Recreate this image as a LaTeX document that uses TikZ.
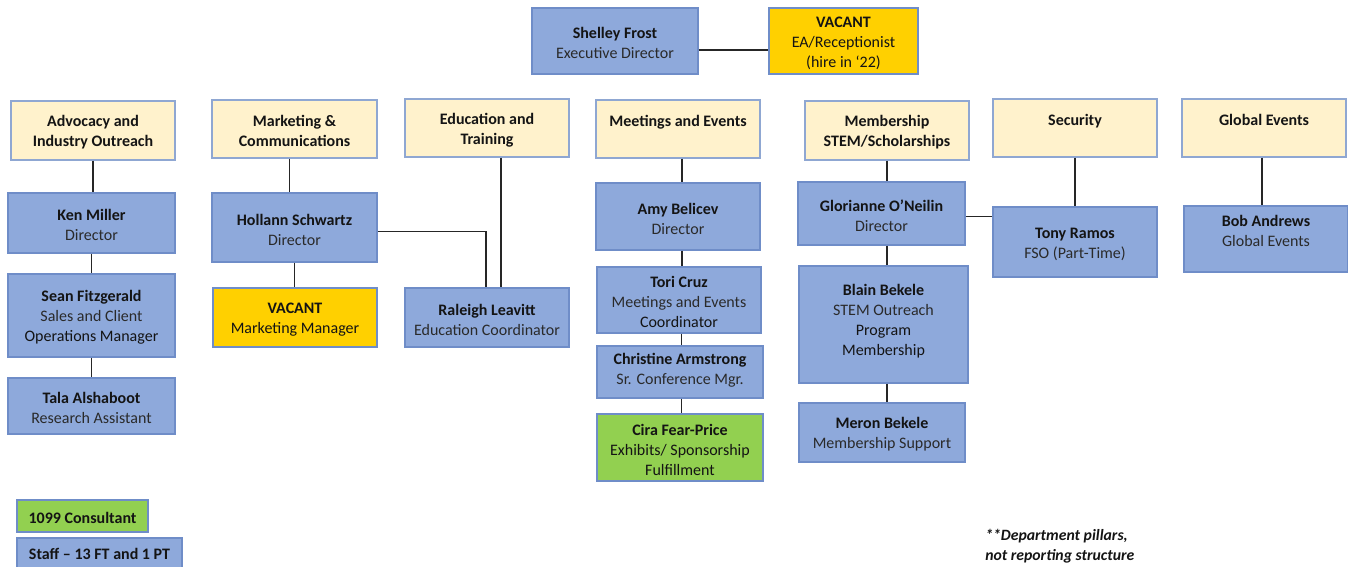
\documentclass[tikz,border=0pt]{standalone}
\usepackage{fontspec}
\setmainfont{Carlito}
\usetikzlibrary{fit,calc}
\definecolor{staffc}{HTML}{8EA9DB}
\definecolor{staffborder}{HTML}{6F8DC8}
\definecolor{hdrc}{HTML}{FFF2CC}
\definecolor{hdrborder}{HTML}{8FA7D2}
\definecolor{goldc}{HTML}{FFD000}
\definecolor{greenc}{HTML}{92D050}
\definecolor{txtc}{HTML}{141414}
\definecolor{subc}{HTML}{2A2A2A}
\newcommand\pname[1]{\textbf{#1}\\\color{subc}}
\tikzset{
  basebox/.style={draw=staffborder, line width=0.8pt, inner sep=0pt},
  staffbox/.style={basebox, fill=staffc},
  goldbox/.style={basebox, fill=goldc},
  greenbox/.style={basebox, fill=greenc},
  hdrbox/.style={basebox, fill=hdrc, draw=hdrborder},
  lbl/.style={align=center, inner sep=0pt, yshift=-1.5pt, text=txtc,
    font=\fontsize{12}{15}\selectfont},
  hlbl/.style={lbl, font=\bfseries\fontsize{12}{15}\selectfont},
  conn/.style={draw=black!85, line width=0.8pt},
}
\begin{document}
\begin{tikzpicture}[x=0.75pt,y=-0.75pt]
\useasboundingbox (0,0) rectangle (1348,567);
% top
\node[staffbox, fit={(532,8) (698,74)}, label={[lbl]center:\pname{Shelley Frost}Executive Director}] (sf) {};
\node[goldbox, fit={(769,8) (918,74)}, label={[lbl]center:\textbf{VACANT}\\EA/Receptionist\\(hire in ‘22)}] (ea) {};
% headers
\node[hdrbox, fit={(11,101) (175,160)}, label={[hlbl]center:Advocacy and\\Industry Outreach}] (h1) {};
\node[hdrbox, fit={(212,100) (377,158)}, label={[hlbl]center:Marketing \&\\Communications}] (h2) {};
\node[hdrbox, fit={(405,99) (569,157)}, label={[hlbl]center:Education and\\Training}] (h3) {};
\node[hdrbox, fit={(596,100) (760,158)}, label={[hlbl]center:Meetings and Events\\\mbox{}}] (h4) {};
\node[hdrbox, fit={(805,101) (969,160)}, label={[hlbl]center:Membership\\STEM/Scholarships}] (h5) {};
\node[hdrbox, fit={(993,99) (1157,157)}, label={[hlbl]center:Security\\\mbox{}}] (h6) {};
\node[hdrbox, fit={(1182,99) (1346,157)}, label={[hlbl]center:Global Events\\\mbox{}}] (h7) {};
% column 1
\node[staffbox, fit={(8,193) (175,253)}, label={[lbl]center:\pname{Ken Miller}Director}] (km) {};
\node[staffbox, fit={(8,274) (175,357)}, label={[lbl]center:\pname{Sean Fitzgerald}Sales and Client\\Operations Manager}] (sfz) {};
\node[staffbox, fit={(8,378) (175,434)}, label={[lbl]center:\pname{Tala Alshaboot}Research Assistant}] (ta) {};
% column 2
\node[staffbox, fit={(212,193) (377,262)}, label={[lbl]center:\pname{Hollann Schwartz}Director}] (hs) {};
\node[goldbox, fit={(213,288) (377,347)}, label={[lbl]center:\textbf{VACANT}\\Marketing Manager}] (vm) {};
% column 3
\node[staffbox, fit={(405,288) (569,347)}, label={[lbl]center:\pname{Raleigh Leavitt}Education Coordinator}] (rl) {};
% column 4
\node[staffbox, fit={(596,183) (760,250)}, label={[lbl]center:\pname{Amy Belicev}Director}] (ab) {};
\node[staffbox, fit={(597,267) (761,333)}, label={[lbl]center:\pname{Tori Cruz}Meetings and Events\\Coordinator}] (tc) {};
\node[staffbox, fit={(597,346) (763,398)}, label={[lbl, yshift=2.5pt]center:\pname{Christine Armstrong}Sr. Conference Mgr.}] (ca) {};
\node[greenbox, fit={(597,414) (763,481)}, label={[lbl]center:\textbf{Cira Fear-Price}\\Exhibits/ Sponsorship\\Fulfillment}] (cf) {};
% column 5
\node[staffbox, fit={(798,182) (965,245)}, label={[lbl]center:\pname{Glorianne O’Neilin}Director}] (go) {};
\node[staffbox, fit={(799,266) (968,383)}, label={[lbl, yshift=4.25pt]center:\pname{Blain Bekele}STEM Outreach\\Program\\Membership}] (bb) {};
\node[staffbox, fit={(799,403) (965,462)}, label={[lbl]center:\pname{Meron Bekele}Membership Support}] (mb) {};
% column 6, 7
\node[staffbox, fit={(993,207) (1157,277)}, label={[lbl]center:\pname{Tony Ramos}FSO (Part-Time)}] (tr) {};
\node[staffbox, fit={(1184,206) (1348,272)}, label={[lbl]center:\pname{Bob Andrews}Global Events\\\mbox{}}] (ba) {};
% legend
\node[greenbox, fit={(17,500) (148,532)}, label={[hlbl]center:1099 Consultant}] (lg1) {};
\node[staffbox, fit={(17,538) (182,572)}, label={[hlbl, yshift=2pt]center:Staff – 13 FT and 1 PT}] (lg2) {};
\node[anchor=base west, align=left, inner sep=0pt, text=txtc,
  font=\bfseries\itshape\fontsize{11.8}{15}\selectfont] (note) at (985,560)
  {**Department pillars,\\not reporting structure};
% connectors
\draw[conn] ([yshift=-6.75pt]sf.east) -- ([yshift=-6.75pt]sf.east -| ea.west);
\draw[conn] (h1.south) -- (h1.south |- km.north);
\draw[conn] (km.south) -- (km.south |- sfz.north);
\draw[conn] (sfz.south) -- (sfz.south |- ta.north);
\draw[conn] ([xshift=-4pt]h2.south) -- ([xshift=-4pt]h2.south |- hs.north);
\draw[conn] (hs.south) -- (hs.south |- vm.north);
\draw[conn] ([yshift=-3pt]hs.east) -| ([xshift=-0.75pt]rl.north);
\draw[conn] ([xshift=10.5pt]h3.south) -- ([xshift=10.5pt]h3.south |- rl.north);
\draw[conn] ([xshift=3pt]h4.south) -- ([xshift=3pt]h4.south |- ab.north);
\draw[conn] ([xshift=3pt]ab.south) -- ([xshift=3pt]ab.south |- tc.north);
\draw[conn] ([xshift=2pt]tc.south) -- ([xshift=2pt]tc.south |- ca.north);
\draw[conn] ([xshift=1pt]ca.south) -- ([xshift=1pt]ca.south |- cf.north);
\draw[conn] (h5.south) -- (h5.south |- go.north);
\draw[conn] (go.south -| h5.south) -- (h5.south |- bb.north);
\draw[conn] (bb.south -| h5.south) -- (h5.south |- mb.north);
\draw[conn] ([yshift=-2.5pt]go.east) -- ([yshift=-2.5pt]go.east -| tr.west);
\draw[conn] (h6.south) -- (h6.south |- tr.north);
\draw[conn] ([xshift=-1.5pt]h7.south) -- ([xshift=-1.5pt]h7.south |- ba.north);
\end{tikzpicture}
\end{document}
